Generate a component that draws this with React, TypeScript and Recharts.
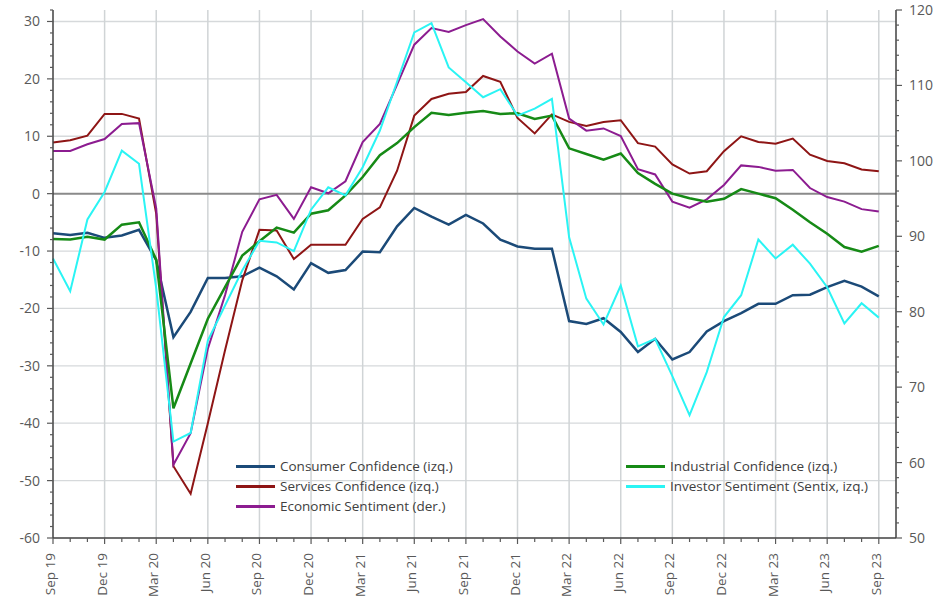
import { LineChart, Line, XAxis, YAxis, ReferenceLine, Legend } from "recharts";

const months = [
  "Sep 19", "Oct 19", "Nov 19", "Dec 19", "Jan 20", "Feb 20", "Mar 20", "Apr 20", "May 20", "Jun 20",
  "Jul 20", "Aug 20", "Sep 20", "Oct 20", "Nov 20", "Dec 20", "Jan 21", "Feb 21", "Mar 21", "Apr 21",
  "May 21", "Jun 21", "Jul 21", "Aug 21", "Sep 21", "Oct 21", "Nov 21", "Dec 21", "Jan 22", "Feb 22",
  "Mar 22", "Apr 22", "May 22", "Jun 22", "Jul 22", "Aug 22", "Sep 22", "Oct 22", "Nov 22", "Dec 22",
  "Jan 23", "Feb 23", "Mar 23", "Apr 23", "May 23", "Jun 23", "Jul 23", "Aug 23", "Sep 23",
];

// left axis (izq.)
const consumer = [
  -6.9, -7.2, -6.8, -7.7, -7.3, -6.3, -11.6, -25.0, -20.6, -14.7, -14.7, -14.4, -12.9, -14.4, -16.7, -12.1, -13.8,
  -13.3, -10.1, -10.2, -5.7, -2.5, -4.0, -5.4, -3.7, -5.2, -8.0, -9.2, -9.6, -9.6, -22.2, -22.7, -21.7, -24.1,
  -27.6, -25.3, -28.9, -27.6, -24.0, -22.2, -20.8, -19.2, -19.2, -17.7, -17.6, -16.3, -15.2, -16.2, -17.9,
];
const services = [
  8.9, 9.3, 10.1, 13.9, 13.9, 13.1, -3.5, -47.5, -52.3, -40.0, -27.3, -15.1, -6.3, -6.4, -11.4, -8.9, -8.9,
  -8.9, -4.4, -2.4, 4.0, 13.6, 16.5, 17.4, 17.7, 20.5, 19.5, 13.2, 10.5, 13.8, 12.5, 11.8, 12.5, 12.8, 8.8,
  8.2, 5.1, 3.5, 3.9, 7.4, 10.0, 9.0, 8.7, 9.6, 6.8, 5.7, 5.3, 4.2, 3.9,
];
const industrial = [
  -7.9, -8.0, -7.5, -8.0, -5.4, -5.0, -11.5, -37.4, -29.6, -21.8, -16.3, -10.8, -8.3, -5.9, -6.8, -3.5, -2.9,
  -0.3, 2.9, 6.7, 8.8, 11.6, 14.1, 13.7, 14.1, 14.4, 13.9, 14.0, 13.0, 13.6, 7.9, 6.9, 5.9, 7.0, 3.6, 1.7,
  0.0, -0.8, -1.4, -0.9, 0.8, 0.0, -0.8, -2.8, -5.0, -7.0, -9.3, -10.1, -9.1,
];
const investor = [
  -11.3, -17.0, -4.5, 0.3, 7.5, 5.2, -16.5, -43.2, -41.7, -25.6, -19.5, -13.4, -8.2, -8.5, -10.0, -2.8, 1.1,
  -0.3, 4.6, 11.0, 19.5, 28.1, 29.7, 22.0, 19.4, 16.8, 18.2, 13.6, 14.8, 16.5, -7.6, -18.3, -22.8, -16.0,
  -26.6, -25.3, -31.8, -38.6, -31.1, -21.5, -17.7, -8.0, -11.3, -8.9, -12.2, -16.3, -22.6, -19.1, -21.6,
];
// right axis (der.)
const economic = [
  101.3, 101.3, 102.2, 102.9, 104.9, 105.0, 93.7, 59.7, 63.9, 75.1, 82.2, 90.6, 94.9, 95.5, 92.3, 96.5, 95.7,
  97.3, 102.5, 104.9, 110.1, 115.4, 117.6, 117.1, 118.0, 118.8, 116.5, 114.5, 112.9, 114.2, 105.6, 104.0,
  104.3, 103.3, 98.9, 98.2, 94.6, 93.8, 94.9, 96.8, 99.4, 99.2, 98.7, 98.8, 96.4, 95.2, 94.6, 93.6, 93.3,
];

const leftTicks = Array.from({ length: 47 }, (_, k) => -60 + k * 2);
const rightTicks = Array.from({ length: 36 }, (_, k) => 50 + k * 2);
const monthTicks = months.map((_, i) => i);
const leftGrid = [-50, -40, -30, -20, -10, 10, 20, 30];
const quarterGrid = monthTicks.filter((i) => i > 0 && i % 3 === 0);

const data = months.map((m, i) => ({
  i,
  m,
  consumer: consumer[i],
  services: services[i],
  industrial: industrial[i],
  investor: investor[i],
  economic: economic[i],
}));

const FONT = "'Open Sans', 'Noto Sans', sans-serif";
const AXIS = "#595959";

const series = [
  { key: "consumer", name: "Consumer Confidence (izq.)", color: "#1b4a78", width: 2.5, axis: "left" },
  { key: "services", name: "Services Confidence (izq.)", color: "#8e1515", width: 2, axis: "left" },
  { key: "economic", name: "Economic Sentiment (der.)", color: "#8c1c90", width: 2, axis: "right" },
  { key: "industrial", name: "Industrial Confidence (izq.)", color: "#168a16", width: 2.5, axis: "left" },
  { key: "investor", name: "Investor Sentiment (Sentix, izq.)", color: "#2af4f4", width: 2, axis: "left" },
];

function LeftTick({ x, y, payload }: any) {
  const v = payload.value;
  const major = v % 10 === 0;
  return (
    <g>
      <line x1={x - (major ? 6 : 3)} x2={x} y1={y} y2={y} stroke={AXIS} strokeWidth={1.2} />
      {major && v <= 30 && (
        <text x={x - 13} y={y} dy={5} textAnchor="end" fill={AXIS} fontSize={14} fontFamily={FONT}>
          {v}
        </text>
      )}
    </g>
  );
}

function RightTick({ x, y, payload }: any) {
  const v = payload.value;
  const major = v % 10 === 0;
  return (
    <g>
      <line x1={x} x2={x + (major ? 6 : 3)} y1={y} y2={y} stroke={AXIS} strokeWidth={1.2} />
      {major && (
        <text x={x + 13} y={y} dy={5} textAnchor="start" fill={AXIS} fontSize={14} fontFamily={FONT}>
          {v}
        </text>
      )}
    </g>
  );
}

function MonthTick({ x, y, payload }: any) {
  const v = payload.value;
  const major = v % 3 === 0;
  return (
    <g>
      <line x1={x} x2={x} y1={y} y2={y + (major ? 6 : 4)} stroke={AXIS} strokeWidth={1.2} />
      {major && (
        <text
          transform={`translate(${x + 2},${y + 15}) rotate(-90)`}
          textAnchor="end"
          fill={AXIS}
          fontSize={13.5}
          fontFamily={FONT}
        >
          {months[v]}
        </text>
      )}
    </g>
  );
}

function LegendBox() {
  const col1 = [series[0], series[1], series[2]];
  const col2 = [series[3], series[4]];
  const item = (s: any) => (
    <div key={s.key} style={{ display: "flex", alignItems: "center", height: 20 }}>
      <div style={{ width: 39, height: 3, background: s.color, marginRight: 5 }} />
      <span style={{ fontFamily: FONT, fontSize: 13.5, color: "#404040", whiteSpace: "nowrap" }}>{s.name}</span>
    </div>
  );
  return (
    <div style={{ display: "flex" }}>
      <div style={{ width: 390 }}>{col1.map(item)}</div>
      <div>{col2.map(item)}</div>
    </div>
  );
}

export default function App() {
  return (
    <div style={{ position: "absolute", left: 0, top: 0, background: "#fff" }}>
      <LineChart width={951} height={603} data={data} margin={{ top: 10, right: 0, bottom: 0, left: 0 }}>
        <XAxis
          dataKey="i"
          type="number"
          domain={[0, 49]}
          ticks={monthTicks}
          interval={0}
          height={65}
          tick={<MonthTick />}
          tickSize={0}
          tickMargin={0}
          tickLine={false}
          stroke="#404040"
          strokeWidth={1.5}
        />
        <YAxis
          yAxisId="left"
          domain={[-60, 32]}
          ticks={leftTicks}
          interval={0}
          width={53}
          tick={<LeftTick />}
          tickSize={0}
          tickMargin={0}
          tickLine={false}
          stroke="#404040"
          strokeWidth={1.5}
        />
        <YAxis
          yAxisId="right"
          orientation="right"
          domain={[50, 120]}
          ticks={rightTicks}
          interval={0}
          width={55}
          tick={<RightTick />}
          tickSize={0}
          tickMargin={0}
          tickLine={false}
          stroke="#404040"
          strokeWidth={1.5}
        />
        {leftGrid.map((v) => (
          <ReferenceLine key={"h" + v} yAxisId="left" y={v} stroke="#d6d9db" strokeWidth={1.3} />
        ))}
        {quarterGrid.map((i) => (
          <ReferenceLine key={"v" + i} yAxisId="left" x={i} stroke="#d0d4d6" strokeWidth={1.5} />
        ))}
        <ReferenceLine yAxisId="left" y={0} stroke="#8a8a8a" strokeWidth={2} />
        {series.map((s) => (
          <Line
            key={s.key}
            yAxisId={s.axis}
            dataKey={s.key}
            name={s.name}
            type="linear"
            stroke={s.color}
            strokeWidth={s.width}
            dot={false}
            activeDot={false}
            isAnimationActive={false}
          />
        ))}
        <Legend
          layout="vertical"
          align="center"
          verticalAlign="middle"
          content={<LegendBox />}
          wrapperStyle={{ left: 236, top: 456, width: 700, height: 62 }}
        />
      </LineChart>
    </div>
  );
}
